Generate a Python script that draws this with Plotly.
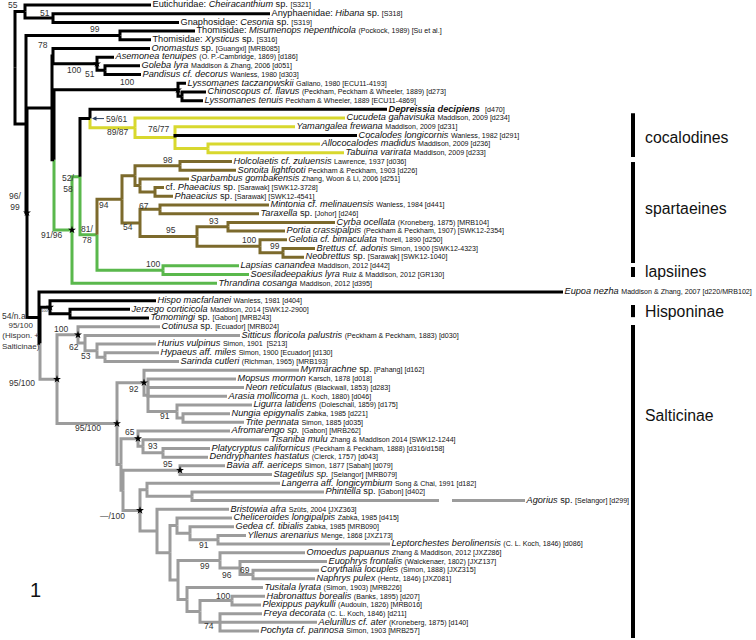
import plotly.graph_objects as go

BLACK = "#000000"
YELLOW = "#d8d82e"
BROWN = "#7c6a2c"
GREEN = "#5ab84c"
GRAY = "#9c9c9c"

# ---------------- data ----------------
tip_labels = [
    "Eutichuridae: <i>Cheiracanthium</i> sp. {[S321]}",
    "Anyphaenidae: <i>Hibana</i> sp. {[S318]}",
    "Gnaphosidae: <i>Cesonia</i> sp. {[S319]}",
    "Thomisidae: <i>Misumenops nepenthicola</i> {(Pockock, 1989) [Su et al.]}",
    "Thomisidae: <i>Xysticus</i> sp. {[S316]}",
    "<i>Onomastus</i> sp. {[Guangxi] [MRB085]}",
    "<i>Asemonea tenuipes</i> {(O. P.-Cambridge, 1869) [d186]}",
    "<i>Goleba lyra</i> {Maddison & Zhang, 2006 [d051]}",
    "<i>Pandisus cf. decorus</i> {Wanless, 1980 [d303]}",
    "<i>Lyssomanes taczanowskii</i> {Galiano, 1980 [ECU11-4193]}",
    "<i>Chinoscopus cf. flavus</i> {(Peckham, Peckham & Wheeler, 1889) [d273]}",
    "<i>Lyssomanes tenuis</i> {Peckham & Wheeler, 1889 [ECU11-4869]}",
    "<b><i>Depreissia decipiens</i></b>  {[d470]}",
    "<i>Cucudeta gahavisuka</i> {Maddison, 2009 [d234]}",
    "<i>Yamangalea frewana</i> {Maddison, 2009 [d231]}",
    "<i>Cocalodes longicornis</i> {Wanless, 1982 [d291]}",
    "<i>Allococalodes madidus</i> {Maddison, 2009 [d236]}",
    "<i>Tabuina varirata</i> {Maddison, 2009 [d233]}",
    "<i>Holcolaetis cf. zuluensis</i> {Lawrence, 1937 [d036]}",
    "<i>Sonoita lightfooti</i> {Peckham & Peckham, 1903 [d226]}",
    "<i>Sparbambus gombakensis</i> {Zhang, Woon & Li, 2006 [d251]}",
    "cf. <i>Phaeacius</i> sp. {[Sarawak] [SWK12-3728]}",
    "<i>Phaeacius</i> sp. {[Sarawak] [SWK12-4541]}",
    "<i>Mintonia cf. melinauensis</i> {Wanless, 1984 [d441]}",
    "<i>Taraxella</i> sp. {[Johor] [d246]}",
    "<i>Cyrba ocellata</i> {(Kroneberg, 1875) [MRB104]}",
    "<i>Portia crassipalpis</i> {(Peckham & Peckham, 1907) [SWK12-2354]}",
    "<i>Gelotia cf. bimaculata</i> {Thorell, 1890 [d250]}",
    "<i>Brettus cf. adonis</i> {Simon, 1900 [SWK12-4323]}",
    "<i>Neobrettus</i> sp. {[Sarawak] [SWK12-1040]}",
    "<i>Lapsias canandea</i> {Maddison, 2012 [d442]}",
    "<i>Soesiladeepakius lyra</i> {Ruiz & Maddison, 2012 [GR130]}",
    "<i>Thrandina cosanga</i> {Maddison, 2012 [d395]}",
    "<i>Eupoa nezha</i> {Maddison & Zhang, 2007 [d220/MRB102]}",
    "<i>Hispo macfarlanei</i> {Wanless, 1981 [d404]}",
    "<i>Jerzego corticicola</i> {Maddison, 2014 [SWK12-2900]}",
    "<i>Tomomingi</i> sp. {[Gabon] [MRB243]}",
    "<i>Cotinusa</i> sp. {[Ecuador] [MRB024]}",
    "<i>Sitticus floricola palustris</i> {(Peckham & Peckham, 1883) [d030]}",
    "<i>Hurius vulpinus</i> {Simon, 1901  [S213]}",
    "<i>Hypaeus aff. miles</i> {Simon, 1900 [Ecuador] [d130]}",
    "<i>Sarinda cutleri</i> {(Richman, 1965) [MRB193]}",
    "<i>Myrmarachne</i> sp. {[Pahang] [d162]}",
    "<i>Mopsus mormon</i> {Karsch, 1878 [d018]}",
    "<i>Neon reticulatus</i> {(Blackwall, 1853) [d283]}",
    "<i>Arasia mollicoma</i> {(L. Koch, 1880) [d046]}",
    "<i>Ligurra latidens</i> {(Doleschall, 1859) [d175]}",
    "<i>Nungia epigynalis</i> {Zabka, 1985 [d221]}",
    "<i>Trite pennata</i> {Simon, 1885 [d035]}",
    "<i>Afromarengo sp.</i> {[Gabon] [MRB262]}",
    "<i>Tisaniba mulu</i> {Zhang & Maddison 2014 [SWK12-1244]}",
    "<i>Platycryptus californicus</i> {(Peckham & Peckham, 1888) [d316/d158]}",
    "<i>Dendryphantes hastatus</i> {(Clerck, 1757) [d043]}",
    "<i>Bavia aff. aericeps</i> {Simon, 1877 [Sabah] [d079]}",
    "<i>Stagetilus sp.</i> {[Selangor] [MRB079]}",
    "<i>Langerra aff. longicymbium</i> {Song & Chai, 1991 [d182]}",
    "<i>Phintella</i> sp. {[Gabon] [d402]}",
    "<i>Agorius</i> sp. {[Selangor] [d299]}",
    "<i>Bristowia afra</i> {Szüts, 2004 [JXZ363]}",
    "<i>Cheliceroides longipalpis</i> {Zabka, 1985 [d415]}",
    "<i>Gedea cf. tibialis</i> {Zabka, 1985 [MRB090]}",
    "<i>Yllenus arenarius</i> {Menge, 1868 [JXZ173]}",
    "<i>Leptorchestes berolinensis</i> {(C. L. Koch, 1846) [d086]}",
    "<i>Omoedus papuanus</i> {Zhang & Maddison, 2012 [JXZ286]}",
    "<i>Euophrys frontalis</i> {(Walckenaer, 1802) [JXZ137]}",
    "<i>Corythalia locuples</i> {(Simon, 1888) [JXZ315]}",
    "<i>Naphrys pulex</i> {(Hentz, 1846) [JXZ081]}",
    "<i>Tusitala lyrata</i> {(Simon, 1903) [MRB226]}",
    "<i>Habronattus borealis</i> {(Banks, 1895) [d207]}",
    "<i>Plexippus paykulli</i> {(Audouin, 1826) [MRB016]}",
    "<i>Freya decorata</i> {(C. L. Koch, 1846) [d211]}",
    "<i>Aelurillus cf. ater</i> {(Kroneberg, 1875) [d140]}",
    "<i>Pochyta cf. pannosa</i> {Simon, 1903 [MRB257]}",
]

tip_depth = [151, 270, 179, 195, 151, 150, 114, 140, 141, 186, 206, 203,
             387, 345, 295, 357, 320, 344, 232, 236, 189, 164, 173, 269,
             259, 335, 285, 287, 315, 304, 239, 249, 217, 563, 156, 130,
             149, 160, 240, 156, 159, 179, 299, 236, 244, 227, 252, 230,
             244, 230, 269, 210, 208, 225, 272, 280, 324, 525, 229, 232,
             234, 246, 390, 305, 327, 319, 315, 263, 265, 261, 262, 317, 259]

node_children = {
    "root": ["out", "thomsalt"], "out": [0, "ag"], "ag": [1, 2],
    "thomsalt": ["thom", "salt"], "thom": [3, 4], "salt": ["a", "ehs"],
    "a": ["oa", "ls"], "oa": [5, "asem"], "asem": [6, "gp"], "gp": [7, 8],
    "ls": ["lyss", "spart"], "lyss": [9, "cl"], "cl": [10, 11],
    "spart": ["n5258", 32], "n5258": ["dc", "n8178"], "dc": [12, "coc"],
    "coc": [13, "c3"], "c3": [14, 15, "at"], "at": [16, 17],
    "n8178": ["sp94", "laps"], "sp94": ["hssp", "mtcpgb"],
    "hssp": ["hs98", "sp"], "hs98": [18, 19], "sp": [20, "pp"], "pp": [21, 22],
    "mtcpgb": ["mt", "cpgb"], "mt": [23, 24], "cpgb": ["cp", "gb"],
    "cp": [25, 26], "gb": [27, "bn"], "bn": [28, 29], "laps": [30, 31],
    "ehs": [33, "hsn"], "hsn": ["hisp", "saltic"], "hisp": [34, "jt"],
    "jt": [35, 36], "saltic": ["cot", "r"], "cot": [37, "sit"],
    "sit": [38, "hurhs"], "hurhs": [39, "hypsar"], "hypsar": [40, 41],
    "r": ["m92", "s"], "m92": [42, "x"], "x": [43, 44, 45, "lnt"],
    "lnt": [46, "nt"], "nt": [47, 48], "s": ["afro", "blb"],
    "afro": [49, "tpd"], "tpd": [50, "pd"], "pd": [51, 52],
    "blb": ["bav", "lb"], "bav": [53, 54], "lb": ["lang", "bris"],
    "lang": [55, "pa"], "pa": [56, 57], "bris": [58, "br"],
    "br": ["chel", "ot"], "chel": [59, "ged"], "ged": [60, "yl"],
    "yl": [61, 62], "ot": ["oe", "tus"], "oe": [63, "ecn"],
    "ecn": [64, "cn"], "cn": [65, 66], "tus": [67, "hpfap"],
    "hpfap": ["hp", "fap"], "hp": [68, 69], "fap": [70, 71, 72],
}

node_depth = {
    "root": 15, "out": 25, "ag": 53, "thomsalt": 26, "thom": 120, "salt": 27,
    "a": 52, "oa": 53, "asem": 97, "gp": 105, "ls": 54, "lyss": 178, "cl": 182,
    "spart": 72, "n5258": 80, "dc": 90, "coc": 135, "c3": 175, "at": 208,
    "n8178": 97, "sp94": 122, "hssp": 135, "hs98": 180, "sp": 140, "pp": 155,
    "mtcpgb": 140, "mt": 160, "cpgb": 197, "cp": 228, "gb": 260, "bn": 283,
    "laps": 163, "ehs": 39, "hsn": 40, "hisp": 50, "jt": 70, "saltic": 57,
    "cot": 78, "sit": 85, "hurhs": 97, "hypsar": 105, "r": 117, "m92": 144,
    "x": 148, "lnt": 177, "nt": 183, "s": 121, "afro": 138, "tpd": 143,
    "pd": 163, "blb": 123, "bav": 180, "lb": 140, "lang": 147, "pa": 192,
    "bris": 157, "br": 170, "chel": 177, "ged": 190, "yl": 218, "ot": 178,
    "oe": 220, "ecn": 240, "cn": 253, "tus": 187, "hpfap": 200, "hp": 232,
    "fap": 220,
}

node_support = {
    "out": "55", "ag": "51", "thom": "99", "oa": "78", "asem": "100", "gp": "51",
    "lyss": "100", "salt": "96/<br>99", "coc": "89/87", "c3": "76/77",
    "n5258": "52/<br>58", "spart": "91/96", "n8178": "81/<br>78", "sp94": "94",
    "hs98": "98", "pp": "67", "mtcpgb": "54", "cpgb": "95", "cp": "93",
    "gb": "100", "bn": "99", "laps": "100", "ehs": "54/n.a.",
    "hsn": "95/100<br>(Hispon. +<br>Salticinae)", "cot": "100", "sit": "62",
    "hurhs": "53", "saltic": "95/100", "m92": "92", "lnt": "91",
    "r": "95/100", "afro": "65", "pd": "93", "bav": "95", "lb": "\u2014/100",
    "yl": "91", "oe": "99", "ecn": "96", "cn": "69", "hp": "100", "fap": "74",
}
arrow_support = {"dc": "59/61"}
tiny_support = {"hisp": "100"}

star_nodes = ["asem", "lyss", "salt", "spart", "hisp", "cot", "saltic",
              "m92", "r", "afro", "bav", "lb"]

color_override = {"root": BLACK, "spart": GREEN, "dc": BLACK, "coc": YELLOW,
                  15: BLACK, "sp94": BROWN, "saltic": GRAY}

clade_names = ["cocalodines", "spartaeines", "lapsiines", "Hisponinae", "Salticinae"]
clade_rows = [(12.45, 17.48), (18.06, 29.67), (30.13, 31.28), (34.5, 35.9), (36.8, 72.8)]
clade_label_rows = [15.2, 23.4, 30.7, 35.2, 47.2]

broken_tip = 57
break_span = (439, 452)

# ---------------- styling (pixels) ----------------
label_shift = {
    "out": (-12, -7), "ag": (-8, -5), "thom": (-25, -6.5), "oa": (-10, -11),
    "asem": (-23, 6), "gp": (-15, 4), "lyss": (-51, -8), "salt": (-12, -11),
    "coc": (-17, 4.5), "c3": (-16, -9), "n5258": (-12, 6.5), "spart": (-20, 5),
    "n8178": (-10, 0), "sp94": (-18, 6), "hs98": (-12, -6), "pp": (-11, 14),
    "mtcpgb": (-12, 4.5), "cpgb": (-26, -7), "cp": (-14, -5.5), "gb": (-11, -6),
    "bn": (-8, -6.5), "laps": (-10, -6), "ehs": (-24, -2), "hsn": (-40, -7),
    "cot": (-17, -6), "sit": (-11, 4), "hurhs": (-11, 5.5), "saltic": (-35, 3.5),
    "m92": (-10, 6), "lnt": (-12, 5), "r": (-29, 4), "afro": (-8, -6.4),
    "pd": (-10, -6.5), "bav": (-12, -6), "lb": (-28, 6), "yl": (-14, 5),
    "oe": (-15, 6), "ecn": (-13, 6.5), "cn": (-8, -5), "hp": (-9, -5),
    "fap": (-11, 4),
}
label_left = {"hsn"}

ROW0, ROWH, H, W = 5.0, 8.695, 640, 756
FONT = "Liberation Sans, Arial, Helvetica, sans-serif"


def fmt(s):
    return s.replace("{", '<span style="font-size:7.1px">').replace("}", "</span>")


ypos = {}


def gety(n):
    if isinstance(n, int):
        return float(n)
    if n not in ypos:
        ch = node_children[n]
        ypos[n] = (gety(ch[0]) + gety(ch[-1])) / 2.0
    return ypos[n]


def getx(n):
    return tip_depth[n] if isinstance(n, int) else node_depth[n]


colors = {}


def assign(n, c):
    c = color_override.get(n, c)
    colors[n] = c
    if not isinstance(n, int):
        for ch in node_children[n]:
            assign(ch, c)


gety("root")
assign("root", BLACK)

segs = {}
for n, chs in node_children.items():
    nx, ny = getx(n), gety(n)
    for ch in chs:
        c = colors[ch]
        xs, ys = segs.setdefault(c, ([], []))
        xs += [nx, nx, getx(ch), None]
        ys += [ny, gety(ch), gety(ch), None]

fig = go.Figure()
for c in [GRAY, GREEN, BROWN, YELLOW, BLACK]:
    if c in segs:
        xs, ys = segs[c]
        fig.add_trace(go.Scatter(x=xs, y=ys, mode="lines",
                                 line=dict(color=c, width=3), hoverinfo="skip"))

# broken long branch
fig.add_trace(go.Scatter(x=list(break_span), y=[broken_tip, broken_tip], mode="lines",
                         line=dict(color="white", width=7), hoverinfo="skip"))

# tip labels
fig.add_trace(go.Scatter(
    x=[d + 1.5 for d in tip_depth], y=list(range(len(tip_labels))), mode="text",
    text=[fmt(t) for t in tip_labels], textposition="middle right",
    textfont=dict(family=FONT, size=9.2, color="#111"), hoverinfo="skip"))

# stars
fig.add_trace(go.Scatter(
    x=[getx(n) for n in star_nodes], y=[gety(n) for n in star_nodes], mode="markers",
    marker=dict(symbol="star", size=6, color="black"), hoverinfo="skip"))

# support labels
for n, t in node_support.items():
    dx, dy = label_shift[n]
    left = n in label_left
    fig.add_annotation(x=getx(n), y=gety(n), text=t, showarrow=False,
                       xshift=dx, yshift=-dy,
                       font=dict(family=FONT, size=8 if left else 8.5, color="#333"),
                       xanchor="left" if left else "center", yanchor="middle",
                       align="center")
for n, t in tiny_support.items():
    fig.add_annotation(x=getx(n), y=gety(n), text=t, showarrow=False,
                       xshift=-6, yshift=-3, font=dict(family=FONT, size=4, color="#333"))
for n, t in arrow_support.items():
    fig.add_annotation(x=getx(n), y=gety(n), text=t, showarrow=True, ax=14, ay=0,
                       xanchor="left", arrowhead=2, arrowsize=0.9, arrowwidth=1,
                       standoff=2, font=dict(family=FONT, size=8.5, color="#333"))

# clade bars and names
for name, (r0, r1), rl in zip(clade_names, clade_rows, clade_label_rows):
    fig.add_trace(go.Scatter(x=[633, 633], y=[r0, r1], mode="lines",
                             line=dict(color="black", width=4), hoverinfo="skip"))
    fig.add_annotation(x=643, y=rl, text=name, showarrow=False, xanchor="left",
                       font=dict(family=FONT, size=15.8, color="#111"))

fig.add_annotation(x=35, y=(590 - ROW0) / ROWH, text="1", showarrow=False,
                   font=dict(family=FONT, size=20, color="#111"))

fig.update_layout(
    width=W, height=H, margin=dict(l=0, r=0, t=0, b=0),
    paper_bgcolor="white", plot_bgcolor="white", showlegend=False,
    xaxis=dict(range=[0, W], visible=False, fixedrange=True),
    yaxis=dict(range=[(H - ROW0) / ROWH, -ROW0 / ROWH], visible=False, fixedrange=True),
)
fig.write_html("out.html", config={"displayModeBar": False},
               post_script="document.body.style.margin='0';document.body.style.padding='0';")
